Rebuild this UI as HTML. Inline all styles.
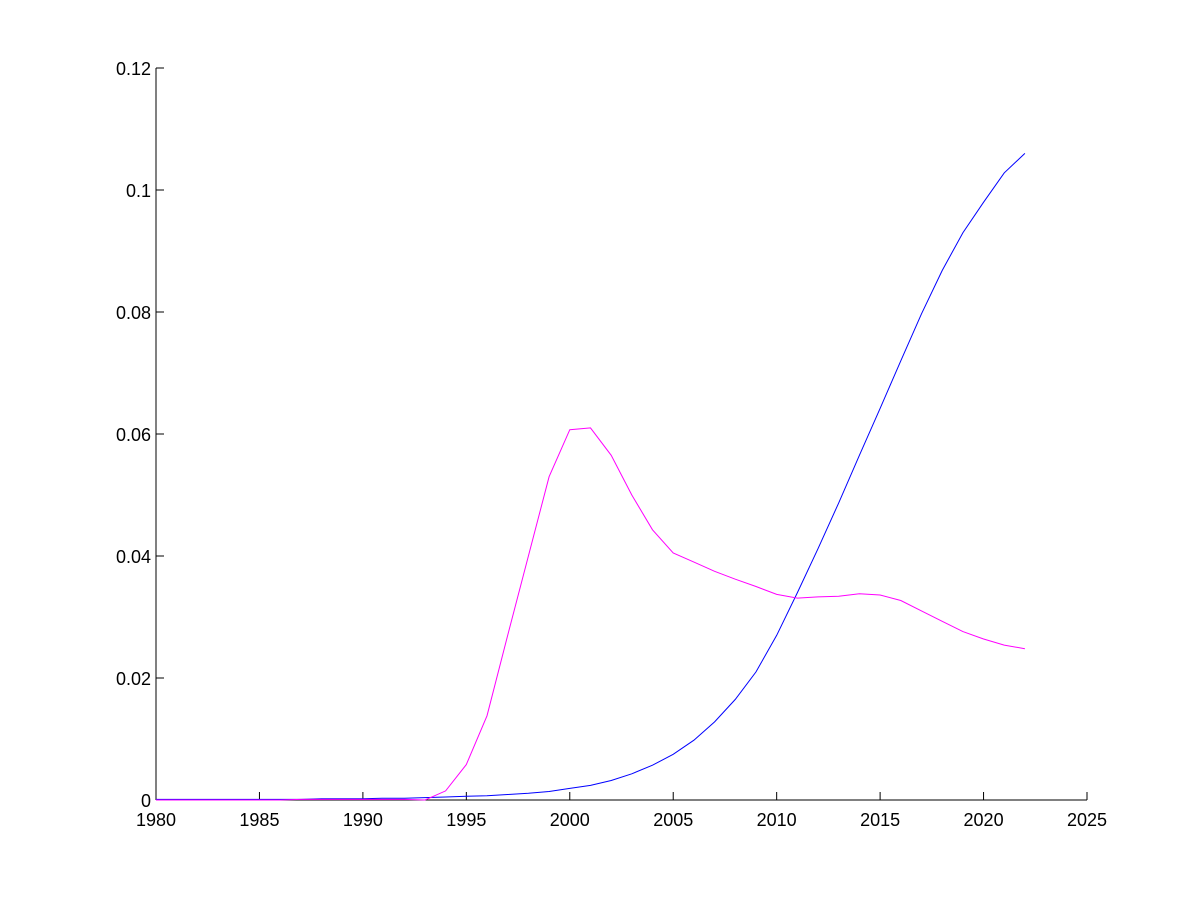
<!DOCTYPE html>
<html><head><meta charset="utf-8"><style>
html,body{margin:0;padding:0;background:#fff;}
svg text{font-family:"Liberation Sans",sans-serif;font-size:18px;fill:#000;}
</style></head><body>
<svg id="s" width="1200" height="900" xmlns="http://www.w3.org/2000/svg"></svg>
<script>
var s=document.getElementById('s');
var X0=156,X1=1087,Y0=800,Y1=68;
function px(x){return X0+(x-1980)*(X1-X0)/45;}
function py(y){return Y0-y*(Y0-Y1)/0.12;}
var h='<rect width="1200" height="900" fill="#fff"/>';
h+='<line x1="'+X0+'" y1="'+Y0+'" x2="'+X1+'" y2="'+Y0+'" stroke="#000"/>';
h+='<line x1="'+X0+'" y1="'+Y0+'" x2="'+X0+'" y2="'+Y1+'" stroke="#000"/>';
for(var x=1980;x<=2025;x+=5){var p=px(x);h+='<line x1="'+p+'" y1="'+Y0+'" x2="'+p+'" y2="'+(Y0-8)+'" stroke="#000"/>';h+='<text x="'+p+'" y="'+(Y0+26)+'" text-anchor="middle">'+x+'</text>';}
var yl=['0','0.02','0.04','0.06','0.08','0.1','0.12'];
for(var i=0;i<7;i++){var q=py(i*0.02);h+='<line x1="'+X0+'" y1="'+q+'" x2="'+(X0+8)+'" y2="'+q+'" stroke="#000"/>';h+='<text x="'+(X0-5)+'" y="'+(q+7)+'" text-anchor="end">'+yl[i]+'</text>';}
var m=[0,0,0,0,0,0,0,0.0001,0.0001,0.0001,0.0001,0.0001,0.0001,0,0.0015,0.0058,0.0138,0.027,0.040,0.053,0.0607,0.061,0.0565,0.050,0.0443,0.0405,0.039,0.0375,0.0362,0.035,0.0337,0.0331,0.0333,0.0334,0.0338,0.0336,0.0327,0.031,0.0293,0.0276,0.0264,0.0254,0.0248];
var b=[0.0001,0.0001,0.0001,0.0001,0.0001,0.0001,0.0001,0.0001,0.0002,0.0002,0.0002,0.0003,0.0003,0.0004,0.0005,0.0006,0.0007,0.0009,0.0011,0.0014,0.0019,0.0024,0.0032,0.0043,0.0057,0.0075,0.0098,0.0128,0.0165,0.021,0.027,0.034,0.0412,0.0487,0.0565,0.0642,0.072,0.0797,0.0868,0.0930,0.098,0.1028,0.106];
function pl(a,c){var pts=a.map(function(v,i){return px(1980+i).toFixed(1)+','+py(v).toFixed(1);}).join(' ');return '<polyline points="'+pts+'" fill="none" stroke="'+c+'" stroke-width="1"/>';}
h+=pl(b,'#0000ff')+pl(m,'#ff00ff');
s.innerHTML=h;
</script>
</body></html>
